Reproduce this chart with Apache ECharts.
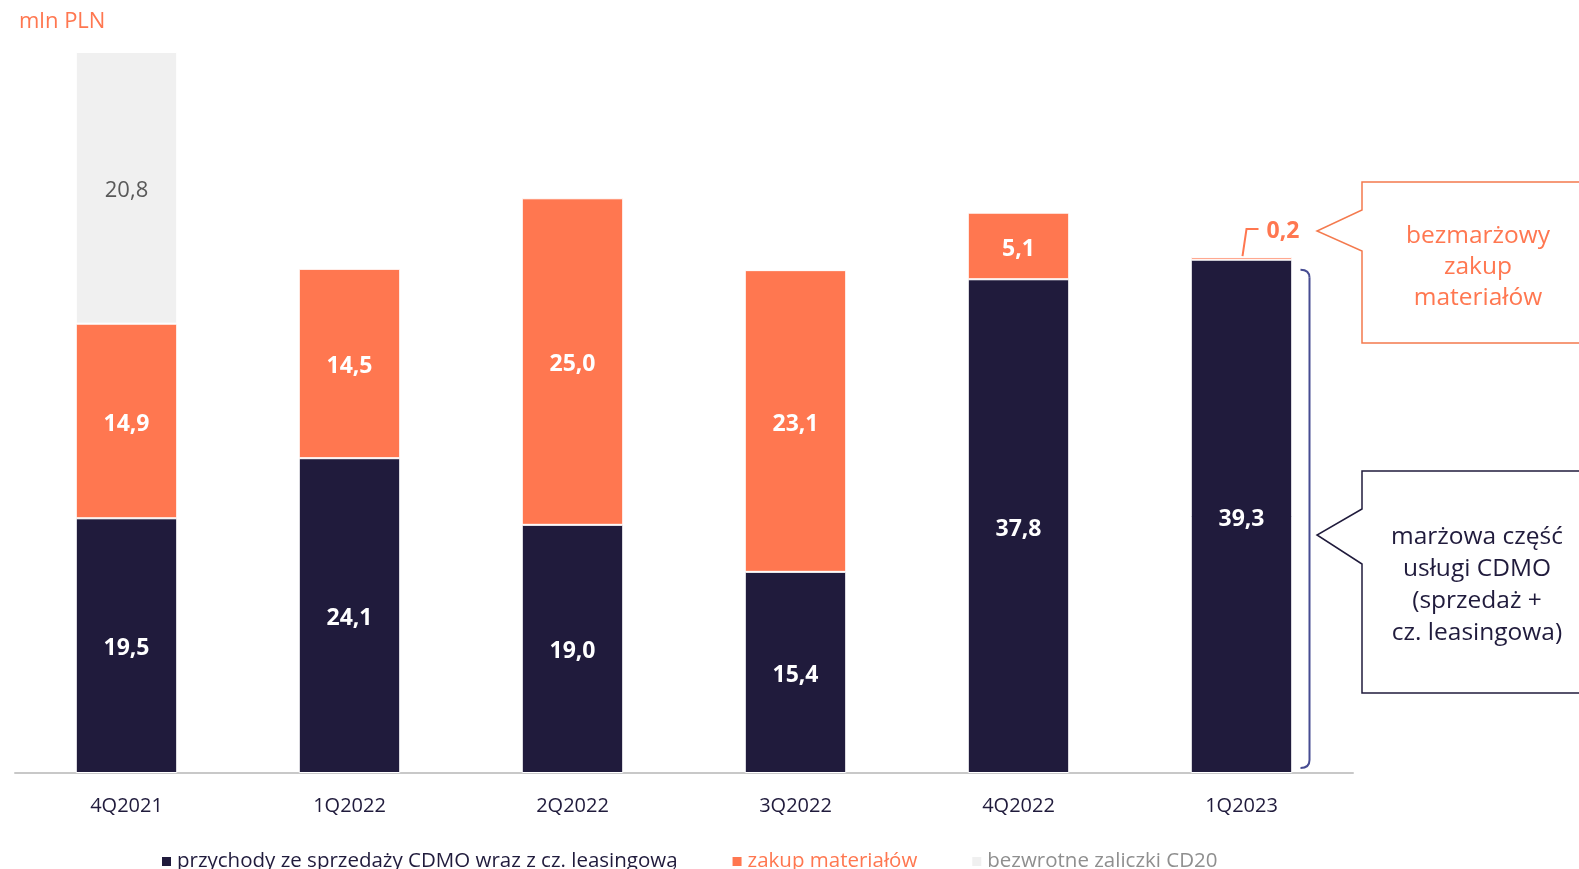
<!DOCTYPE html>
<html>
<head>
<meta charset="utf-8">
<script src="https://cdn.jsdelivr.net/npm/echarts@6/dist/echarts.min.js"></script>
<style>
  html, body { margin: 0; padding: 0; background: #fff; }
  #chart { width: 1579px; height: 869px; }
</style>
</head>
<body>
<div id="chart"></div>
<script>
const categories = ['4Q2021', '1Q2022', '2Q2022', '3Q2022', '4Q2022', '1Q2023']
const sprzedaz = [19.5, 24.1, 19.0, 15.4, 37.8, 39.3]
const materialy = [14.9, 14.5, 25.0, 23.1, 5.1, 0.2]
const zaliczki = [20.8, null, null, null, null, null]
const seriesNames = ['przychody ze sprzedaży CDMO wraz z cz. leasingową', 'zakup materiałów', 'bezwrotne zaliczki CD20']

const FONT = '"Open Sans", "Noto Sans", sans-serif'
const DARK = '#201b3c'
const ORANGE = '#ff7750'
const GREY = '#f0f0f0'

const fmt = v => v.toFixed(1).replace('.', ',')

const chart = echarts.init(document.getElementById('chart'))

const makeSeries = (name, data, color, labelColor, bold) => ({
  name,
  type: 'bar',
  stack: 'total',
  barWidth: '45.5%',
  data,
  itemStyle: { color, borderColor: '#fff', borderWidth: 1 },
  label: {
    show: true,
    position: 'inside',
    offset: [0, 3],
    fontFamily: FONT,
    fontSize: bold ? 23 : 22,
    fontWeight: bold ? 'bold' : 'normal',
    color: labelColor,
    formatter: p => (p.value == null || p.value < 1) ? '' : fmt(p.value)
  }
})

chart.setOption({
  animation: false,
  backgroundColor: '#fff',
  textStyle: { fontFamily: FONT },
  grid: { left: 15, right: 226, top: 52, bottom: 96, containLabel: false },
  legend: {
    left: 155,
    top: 846,
    icon: 'rect',
    itemWidth: 11,
    itemHeight: 11,
    itemGap: 53,
    textStyle: { fontFamily: FONT, fontSize: 20.5 },
    data: [
      { name: seriesNames[0], textStyle: { color: DARK } },
      { name: seriesNames[1], textStyle: { color: ORANGE } },
      { name: seriesNames[2], textStyle: { color: '#8f8f8f' } }
    ]
  },
  xAxis: {
    type: 'category',
    data: categories,
    axisLine: { lineStyle: { color: '#c8c8c8', width: 2 } },
    axisTick: { show: false },
    axisLabel: { color: DARK, fontSize: 20, fontFamily: FONT, margin: 23 }
  },
  yAxis: {
    type: 'value',
    min: 0,
    max: 55.2,
    show: false,
    splitLine: { show: false }
  },
  series: [
    makeSeries(seriesNames[0], sprzedaz, DARK, '#fff', true),
    makeSeries(seriesNames[1], materialy, ORANGE, '#fff', true),
    makeSeries(seriesNames[2], zaliczki, GREY, '#595959', false)
  ]
})

// adnotacje: etykieta 0,2, klamra i dymki
const last = categories.length - 1
const topDark = chart.convertToPixel({ xAxisIndex: 0, yAxisIndex: 0 }, [last, sprzedaz[last]])
const topAll = chart.convertToPixel({ xAxisIndex: 0, yAxisIndex: 0 }, [last, sprzedaz[last] + materialy[last]])
const base = chart.convertToPixel({ xAxisIndex: 0, yAxisIndex: 0 }, [last, 0])
const cx = topAll[0]
const bx = cx + 68
const bTop = topDark[1] + 10
const bBot = base[1] - 5
const BRACKET = '#474c92'

chart.setOption({
  graphic: [
    { type: 'text', x: 19, y: 22, style: { text: 'mln PLN', fill: ORANGE, font: '22px ' + FONT, verticalAlign: 'middle' } },
    // leader line for 0,2
    {
      type: 'polyline',
      shape: { points: [[cx + 1, topAll[1] - 1], [cx + 5, topAll[1] - 28], [cx + 17, topAll[1] - 28]] },
      style: { stroke: ORANGE, lineWidth: 2, fill: null }
    },
    {
      type: 'text', x: cx + 25, y: topAll[1] - 26,
      style: { text: fmt(materialy[last]), fill: ORANGE, font: 'bold 23px ' + FONT, verticalAlign: 'middle' }
    },
    // bracket
    {
      type: 'bezierCurve',
      shape: { x1: bx - 9, y1: bTop, x2: bx, y2: bTop + 8, cpx1: bx, cpy1: bTop },
      style: { stroke: BRACKET, lineWidth: 2, fill: null }
    },
    {
      type: 'line',
      shape: { x1: bx, y1: bTop + 8, x2: bx, y2: bBot - 8 },
      style: { stroke: BRACKET, lineWidth: 2 }
    },
    {
      type: 'bezierCurve',
      shape: { x1: bx, y1: bBot - 8, x2: bx - 9, y2: bBot, cpx1: bx, cpy1: bBot },
      style: { stroke: BRACKET, lineWidth: 2, fill: null }
    },
    // callout 1
    {
      type: 'polyline',
      shape: { points: [[1600, 182], [1362, 182], [1362, 210], [1317, 231], [1362, 251], [1362, 343], [1600, 343]] },
      style: { stroke: '#f47a4e', lineWidth: 1.5, fill: null }
    },
    {
      type: 'text', x: 1478, y: 267,
      style: {
        text: 'bezmarżowy\nzakup\nmateriałów', fill: ORANGE, font: '24.5px ' + FONT,
        align: 'center', verticalAlign: 'middle', lineHeight: 31
      }
    },
    // callout 2
    {
      type: 'polyline',
      shape: { points: [[1600, 471], [1362, 471], [1362, 509], [1317, 535], [1362, 564], [1362, 693], [1600, 693]] },
      style: { stroke: DARK, lineWidth: 1.5, fill: null }
    },
    {
      type: 'text', x: 1477, y: 585,
      style: {
        text: 'marżowa część\nusługi CDMO\n(sprzedaż +\ncz. leasingowa)', fill: DARK, font: '24.5px ' + FONT,
        align: 'center', verticalAlign: 'middle', lineHeight: 32
      }
    }
  ]
})
</script>
</body>
</html>
